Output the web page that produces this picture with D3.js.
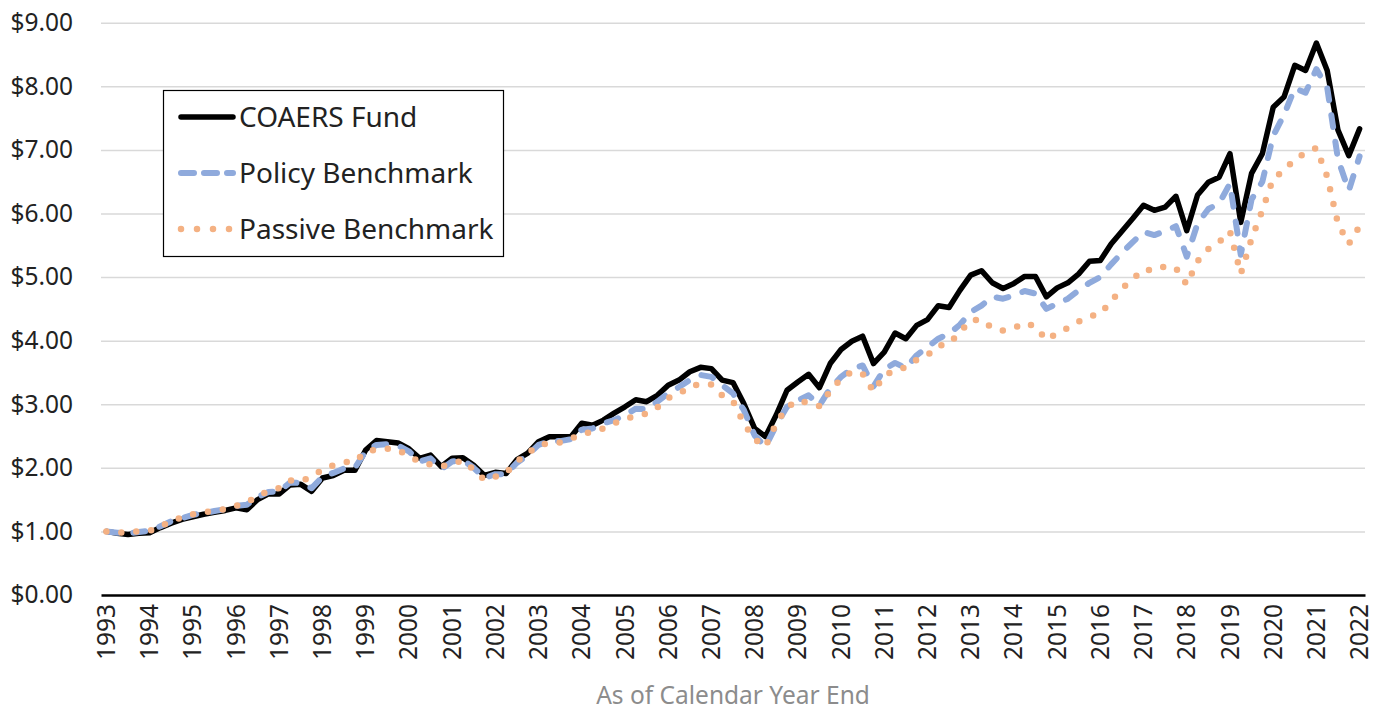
<!DOCTYPE html>
<html>
<head>
<meta charset="utf-8">
<script src="https://cdn.jsdelivr.net/npm/d3@7"></script>
<style>
  body { margin: 0; background: #fff; }
  svg text { font-family: "Noto Sans", "Open Sans", sans-serif; }
</style>
</head>
<body>
<div id="chart"></div>
<script>
// quarter-end values, Dec 1993 .. Dec 2022 (year label every 4th point)
var years = [1993, 1994, 1995, 1996, 1997, 1998, 1999, 2000, 2001, 2002,
  2003, 2004, 2005, 2006, 2007, 2008, 2009, 2010, 2011, 2012,
  2013, 2014, 2015, 2016, 2017, 2018, 2019, 2020, 2021, 2022];

var fund = [1.00, 0.97, 0.95, 0.97, 0.98, 1.06, 1.13, 1.19, 1.23, 1.27,
  1.30, 1.33, 1.37, 1.34, 1.50, 1.59, 1.59, 1.73, 1.74, 1.63,
  1.84, 1.88, 1.96, 1.96, 2.28, 2.43, 2.41, 2.39, 2.30, 2.15,
  2.20, 2.02, 2.15, 2.16, 2.04, 1.88, 1.93, 1.91, 2.13, 2.23,
  2.41, 2.49, 2.49, 2.49, 2.70, 2.67, 2.75, 2.86, 2.96, 3.07,
  3.04, 3.14, 3.30, 3.38, 3.51, 3.58, 3.56, 3.38, 3.34, 3.01,
  2.62, 2.49, 2.83, 3.22, 3.35, 3.47, 3.26, 3.64, 3.86, 3.99,
  4.07, 3.64, 3.82, 4.12, 4.03, 4.24, 4.33, 4.55, 4.52, 4.79,
  5.03, 5.10, 4.91, 4.82, 4.90, 5.01, 5.01, 4.69, 4.83, 4.91,
  5.05, 5.25, 5.26, 5.52, 5.72, 5.92, 6.13, 6.05, 6.10, 6.27,
  5.73, 6.29, 6.49, 6.57, 6.94, 5.86, 6.63, 6.94, 7.67, 7.83,
  8.33, 8.25, 8.68, 8.25, 7.31, 6.91, 7.33];

var policy = [1.00, 0.98, 0.97, 0.99, 1.01, 1.08, 1.16, 1.21, 1.26, 1.29,
  1.32, 1.35, 1.40, 1.42, 1.54, 1.62, 1.63, 1.77, 1.76, 1.68,
  1.86, 1.92, 1.99, 2.00, 2.26, 2.36, 2.37, 2.35, 2.26, 2.10,
  2.15, 1.98, 2.10, 2.12, 2.00, 1.84, 1.90, 1.90, 2.08, 2.20,
  2.36, 2.42, 2.42, 2.45, 2.60, 2.62, 2.70, 2.75, 2.83, 2.93,
  2.92, 3.04, 3.17, 3.27, 3.38, 3.46, 3.43, 3.30, 3.17, 2.91,
  2.51, 2.33, 2.67, 2.96, 3.06, 3.14, 2.98, 3.25, 3.43, 3.56,
  3.61, 3.28, 3.55, 3.65, 3.57, 3.77, 3.90, 4.03, 4.11, 4.25,
  4.45, 4.55, 4.69, 4.66, 4.71, 4.78, 4.74, 4.50, 4.58, 4.66,
  4.79, 4.91, 5.00, 5.20, 5.38, 5.55, 5.71, 5.66, 5.72, 5.80,
  5.32, 5.84, 6.07, 6.16, 6.47, 5.35, 6.22, 6.50, 7.22, 7.55,
  7.97, 7.90, 8.27, 7.98, 6.85, 6.36, 6.90];

var passive = [1.00, 0.98, 0.99, 1.00, 1.01, 1.08, 1.16, 1.22, 1.27, 1.30,
  1.32, 1.35, 1.40, 1.46, 1.55, 1.64, 1.68, 1.80, 1.79, 1.86,
  1.97, 2.04, 2.09, 2.10, 2.25, 2.29, 2.30, 2.28, 2.18, 2.10,
  2.05, 2.02, 2.07, 2.11, 1.97, 1.81, 1.86, 1.92, 2.10, 2.23,
  2.35, 2.39, 2.40, 2.46, 2.53, 2.57, 2.62, 2.70, 2.76, 2.82,
  2.85, 2.95, 3.10, 3.16, 3.28, 3.32, 3.31, 3.14, 3.05, 2.70,
  2.45, 2.33, 2.70, 2.95, 3.06, 3.02, 2.97, 3.21, 3.40, 3.51,
  3.48, 3.20, 3.45, 3.54, 3.58, 3.70, 3.77, 3.92, 3.95, 4.13,
  4.32, 4.33, 4.20, 4.16, 4.20, 4.28, 4.22, 4.01, 4.12, 4.20,
  4.30, 4.38, 4.42, 4.62, 4.82, 4.97, 5.12, 5.10, 5.17, 5.14,
  4.88, 5.25, 5.44, 5.55, 5.72, 5.05, 5.60, 6.05, 6.55, 6.67,
  6.86, 6.95, 7.03, 6.58, 5.84, 5.52, 5.80];

var yTicks = [0, 1, 2, 3, 4, 5, 6, 7, 8, 9];
var seriesNames = ["COAERS Fund", "Policy Benchmark", "Passive Benchmark"];

var w = 1381, h = 710;
var plotLeft = 101, plotRight = 1365, plotTop = 22.7, plotBottom = 595;

var svg = d3.select("#chart").append("svg")
  .attr("width", w)
  .attr("height", h);

var x = d3.scaleBand()
  .domain(d3.range(fund.length))
  .range([plotLeft, plotRight]);
var cx = function(i) { return x(i) + x.bandwidth() / 2; };

var y = d3.scaleLinear()
  .domain([0, 9])
  .range([plotBottom, plotTop]);

// gridlines
svg.append("g")
  .attr("transform", "translate(" + plotLeft + ",0)")
  .call(d3.axisLeft(y).tickValues(yTicks.slice(1)).tickSize(-(plotRight - plotLeft)).tickFormat(""))
  .call(function(g) {
    g.select(".domain").remove();
    g.selectAll("line").attr("stroke", "#d9d9d9").attr("stroke-width", 1.5);
  });

// y labels
svg.append("g")
  .attr("transform", "translate(" + plotLeft + ",0)")
  .call(d3.axisLeft(y).tickValues(yTicks).tickSize(0).tickPadding(28).tickFormat(d3.format("$.2f")))
  .call(function(g) {
    g.select(".domain").remove();
    g.selectAll("text")
      .attr("font-size", 24.5)
      .attr("fill", "#222");
  });

// x axis
var xTickIdx = years.map(function(d, k) { return k * 4; });
svg.append("g")
  .attr("transform", "translate(0," + plotBottom + ")")
  .call(d3.axisBottom(x).tickValues(xTickIdx).tickSize(0).tickFormat(function(i) { return years[i / 4]; }))
  .call(function(g) {
    g.select(".domain").attr("stroke", "#000").attr("stroke-width", 2.5);
    g.selectAll("text")
      .attr("font-size", 24.5)
      .attr("fill", "#222")
      .attr("text-anchor", "end")
      .attr("dy", "0.35em")
      .attr("transform", "translate(0,9) rotate(-90)")
      .attr("x", 0)
      .attr("y", 0);
  });

svg.append("text")
  .attr("x", (plotLeft + plotRight) / 2)
  .attr("y", 704)
  .attr("text-anchor", "middle")
  .attr("font-size", 24.5)
  .attr("fill", "#8c8c8c")
  .text("As of Calendar Year End");

var line = d3.line()
  .x(function(d, i) { return cx(i); })
  .y(function(d) { return y(d); });

var styles = [
  { data: fund, color: "#000000", width: 5.5, dash: null },
  { data: policy, color: "#8faadc", width: 6, dash: "12 15" },
  { data: passive, color: "#f4b183", width: 6.5, dash: "0 15" }
];

styles.forEach(function(s) {
  svg.append("path")
    .datum(s.data)
    .attr("fill", "none")
    .attr("stroke", s.color)
    .attr("stroke-width", s.width)
    .attr("stroke-linejoin", "round")
    .attr("stroke-linecap", "round")
    .attr("stroke-dasharray", s.dash)
    .attr("d", line);
});

// legend
var legend = svg.append("g");
legend.append("rect")
  .attr("x", 163.5).attr("y", 90.5)
  .attr("width", 340).attr("height", 166)
  .attr("fill", "#fff")
  .attr("stroke", "#000")
  .attr("stroke-width", 1.2);

var rowY = [117, 173, 229];
styles.forEach(function(s, k) {
  legend.append("line")
    .attr("x1", 181).attr("x2", 233)
    .attr("y1", rowY[k]).attr("y2", rowY[k])
    .attr("stroke", s.color)
    .attr("stroke-width", s.width)
    .attr("stroke-linecap", "round")
    .attr("stroke-dasharray", k === 1 ? "13 10" : (k === 2 ? "0 16" : null));
  legend.append("text")
    .attr("x", 239)
    .attr("y", rowY[k])
    .attr("dy", "0.35em")
    .attr("font-size", 28)
    .attr("fill", "#222")
    .text(seriesNames[k]);
});
</script>
</body>
</html>
